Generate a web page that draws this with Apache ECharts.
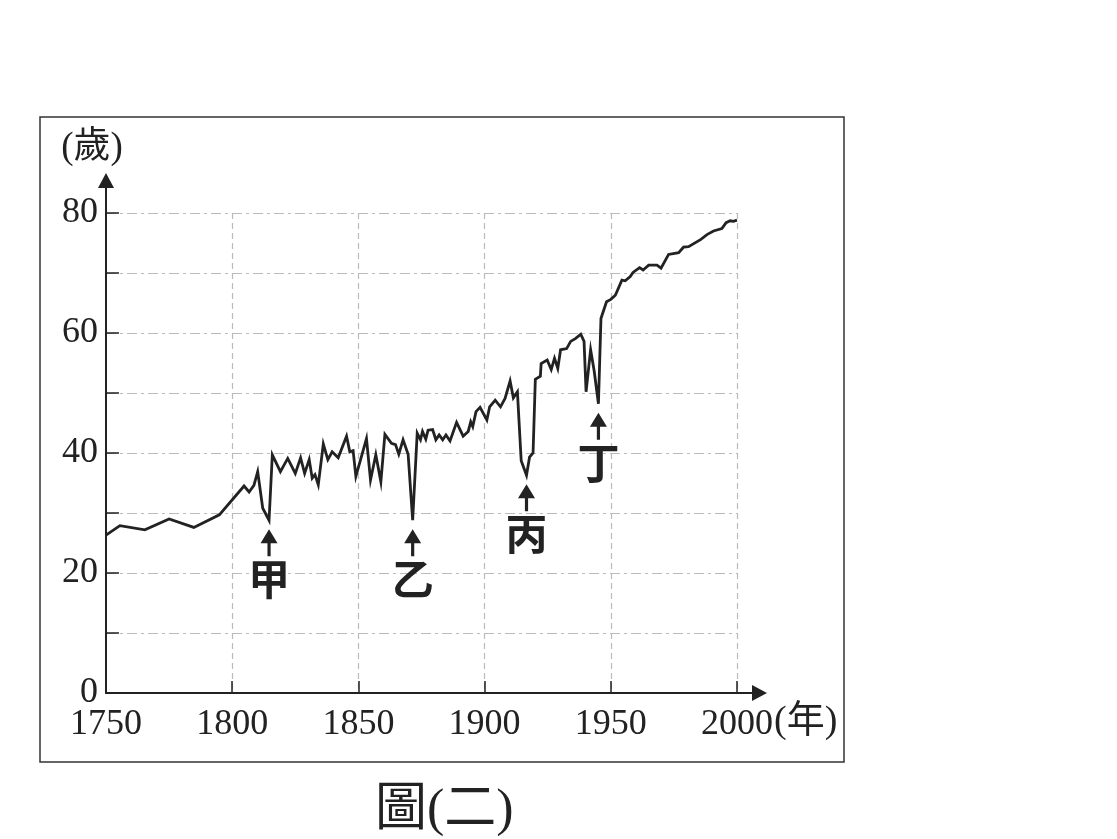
<!DOCTYPE html>
<html>
<head>
<meta charset="utf-8">
<script src="https://cdn.jsdelivr.net/npm/echarts@6/dist/echarts.min.js"></script>
<style>
  html, body { margin: 0; padding: 0; background: #fff; }
  #chart { width: 1117px; height: 839px; }
</style>
</head>
<body>
<div id="chart"></div>
<script>
// life expectancy (years)
const years = [
  1750, 1755.5, 1765.4, 1775, 1784.8, 1794.9, 1804.7, 1806.7, 1808.6, 1810.1,
  1812.1, 1814.6, 1815.9, 1819.1, 1822, 1825, 1827.1, 1828.7, 1830.5, 1831.7,
  1832.8, 1834.1, 1836.1, 1837.9, 1839.6, 1842, 1845.3, 1846.6, 1847.9, 1849,
  1853.2, 1854.8, 1856.9, 1858.9, 1860.5, 1863.1, 1864.7, 1866, 1867.7, 1869.7,
  1871.5, 1873.3, 1874.6, 1875.4, 1876.7, 1877.6, 1879.4, 1880.7, 1882, 1883.4,
  1884.7, 1886.3, 1888.9, 1891.5, 1893.5, 1894.5, 1895.3, 1896.6, 1898.2, 1900.9,
  1902, 1904.2, 1906.3, 1908.1, 1910.1, 1911.4, 1913, 1914.5, 1916.6, 1917.8,
  1919.2, 1920.1, 1922.1, 1922.4, 1924.8, 1926.4, 1927.7, 1929, 1930.1, 1932.5,
  1934.1, 1936.1, 1938.1, 1939.4, 1940.2, 1942, 1943.4, 1945.1, 1946.1, 1948.3,
  1950, 1951.8, 1954.4, 1955.7, 1957.7, 1958.8, 1961.4, 1962.8, 1965, 1968.3,
  1969.9, 1972.9, 1976.9, 1978.8, 1980.8, 1985.7, 1988.1, 1990.7, 1994, 1995.7,
  1997.3, 1998.6, 2000
];
const lifeExp = [
  26.3, 27.9, 27.2, 29.0, 27.6, 29.7, 34.5, 33.5, 34.6, 36.9,
  30.8, 28.8, 39.7, 36.9, 39.1, 36.6, 39.2, 36.6, 38.9, 35.8,
  36.4, 34.7, 41.5, 38.9, 40.2, 39.2, 42.8, 40.2, 40.4, 36.1,
  42.4, 35.5, 39.7, 35.2, 43.1, 41.6, 41.4, 39.8, 42.2, 39.8,
  28.8, 43.3, 42.2, 43.6, 42.3, 43.8, 43.9, 42.2, 43.0, 42.2,
  43.0, 42.0, 45.1, 42.8, 43.6, 45.2, 44.4, 46.9, 47.6, 45.5,
  47.7, 48.8, 47.7, 49.1, 52.0, 49.2, 50.2, 38.7, 36.3, 39.3,
  40.0, 52.3, 52.8, 54.9, 55.5, 53.9, 55.8, 54.1, 57.2, 57.4,
  58.6, 59.1, 59.8, 58.6, 50.2, 57.2, 53.7, 48.2, 62.4, 65.2,
  65.6, 66.3, 68.8, 68.7, 69.4, 70.1, 70.9, 70.5, 71.3, 71.3,
  70.8, 73.1, 73.4, 74.3, 74.4, 75.6, 76.4, 77.0, 77.4, 78.4,
  78.7, 78.6, 78.8
];

// the four marked dips
const markNames = ['甲', '乙', '丙', '丁'];
const markYears = [1814.6, 1871.5, 1916.6, 1945.1];
const markValues = [28.8, 28.8, 36.3, 48.2];

// axis ticks and labels
const xLabelValues = [1750, 1800, 1850, 1900, 1950, 2000];
const xTickValues = [1800, 1850, 1900, 1950, 2000];
const yLabelValues = [0, 20, 40, 60, 80];
const yTickValues = [0, 10, 20, 30, 40, 50, 60, 70, 80];

const serif = "'Liberation Serif', 'Noto Sans CJK TC', serif";
const ink = '#222';

const chart = echarts.init(document.getElementById('chart'), null, { renderer: 'canvas' });

// arrow heads with a shaft, so the axis line runs on past the last tick
const arrowUp = 'path://M8,0 L16,14 L9.5,14 L9.5,27 L6.5,27 L6.5,14 L0,14 Z';
const yAxisEnd = 'path://M8,0 L16,15 L9,15 L9,40 L7,40 L7,15 L0,15 Z';
const xAxisEnd = 'path://M8,0 L16,15 L9,15 L9,30 L7,30 L7,15 L0,15 Z';

const option = {
  animation: false,
  backgroundColor: '#fff',
  title: {
    text: '圖(二)',
    left: 370,
    top: 780,
    textStyle: { fontFamily: serif, fontSize: 52, fontWeight: 'normal', color: ink }
  },
  graphic: [
    {
      type: 'rect',
      shape: { x: 40, y: 117, width: 804, height: 645 },
      style: { fill: 'none', stroke: '#333', lineWidth: 1.5 },
      silent: true
    }
  ],
  grid: { left: 106, right: 380, top: 213, bottom: 146 },
  xAxis: {
    type: 'value',
    min: 1750,
    max: 2000,
    interval: 50,
    name: '(年)',
    nameLocation: 'end',
    nameGap: 37,
    nameMoveOverlap: false,
    nameTextStyle: {
      fontFamily: serif, fontSize: 38, color: ink,
      verticalAlign: 'top', padding: [10, 0, 0, 0]
    },
    axisLine: {
      onZero: false,
      symbol: ['none', xAxisEnd],
      symbolSize: [16, 30],
      symbolOffset: [0, 15],
      lineStyle: { color: ink, width: 2 }
    },
    axisTick: {
      inside: true,
      length: 12,
      customValues: xTickValues,
      lineStyle: { color: ink, width: 1.5 }
    },
    axisLabel: {
      customValues: xLabelValues,
      formatter: v => String(v),
      fontFamily: serif, fontSize: 36, color: ink, margin: 14
    },
    splitLine: {
      show: true,
      showMinLine: true,
      showMaxLine: true,
      lineStyle: { color: '#bbb', width: 1.2, type: [6, 4] }
    }
  },
  yAxis: {
    type: 'value',
    min: 0,
    max: 80,
    interval: 10,
    name: '(歲)',
    nameLocation: 'end',
    nameGap: 46,
    nameMoveOverlap: false,
    nameTextStyle: {
      fontFamily: serif, fontSize: 37, color: ink,
      align: 'center', padding: [0, 28, 0, 0]
    },
    axisLine: {
      show: true,
      symbol: ['none', yAxisEnd],
      symbolSize: [16, 40],
      symbolOffset: [0, 20],
      lineStyle: { color: ink, width: 2 }
    },
    axisTick: {
      show: true,
      inside: true,
      length: 13,
      customValues: yTickValues,
      lineStyle: { color: ink, width: 1.5 }
    },
    axisLabel: {
      customValues: yLabelValues,
      fontFamily: serif, fontSize: 36, color: ink, margin: 8
    },
    splitLine: {
      show: true,
      showMinLine: false,
      showMaxLine: true,
      lineStyle: { color: '#bbb', width: 1.2, type: [10, 4, 3, 4] }
    }
  },
  series: [
    {
      type: 'line',
      data: years.map((y, i) => [y, lifeExp[i]]),
      showSymbol: false,
      lineStyle: { color: ink, width: 2.8, join: 'miter' },
      markPoint: {
        symbol: arrowUp,
        symbolSize: [17, 27],
        symbolOffset: [0, 22.5],
        itemStyle: { color: ink },
        label: {
          show: true,
          position: 'bottom',
          distance: 2,
          formatter: p => p.name,
          fontFamily: "'Noto Sans CJK TC', sans-serif",
          fontWeight: 'bold',
          fontSize: 42,
          color: ink
        },
        data: markNames.map((n, i) => ({ name: n, coord: [markYears[i], markValues[i]] }))
      }
    }
  ]
};

chart.setOption(option);
</script>
</body>
</html>
